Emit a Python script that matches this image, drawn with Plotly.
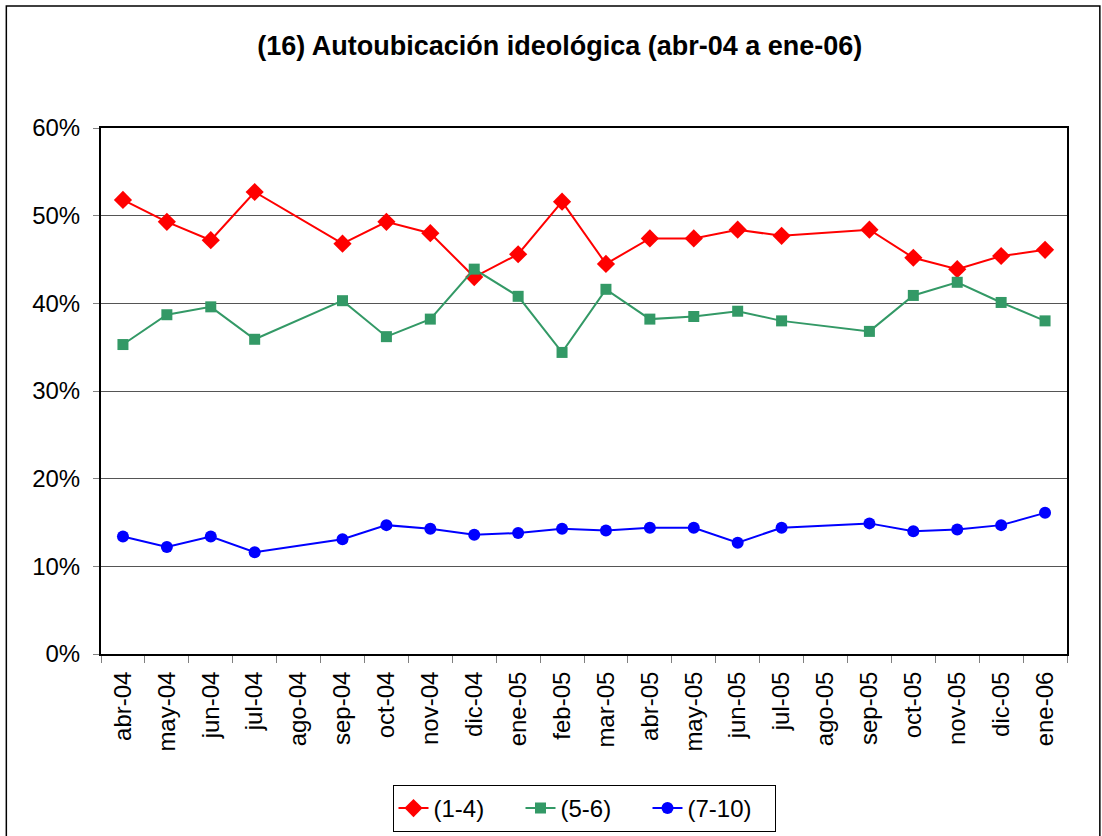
import plotly.graph_objects as go

# categories (ago-04 and ago-05 have no survey -> gaps joined)
meses = ["abr-04", "may-04", "jun-04", "jul-04", "ago-04", "sep-04", "oct-04",
         "nov-04", "dic-04", "ene-05", "feb-05", "mar-05", "abr-05", "may-05",
         "jun-05", "jul-05", "ago-05", "sep-05", "oct-05", "nov-05", "dic-05", "ene-06"]

izq_1_4 = [51.8, 49.3, 47.2, 52.7, None, 46.8, 49.3, 48.0, 43.0, 45.6, 51.6,
           44.5, 47.4, 47.4, 48.4, 47.7, None, 48.4, 45.2, 43.9, 45.4, 46.1]
centro_5_6 = [35.3, 38.7, 39.6, 35.9, None, 40.3, 36.2, 38.2, 43.9, 40.8, 34.4,
              41.6, 38.2, 38.5, 39.1, 38.0, None, 36.8, 40.9, 42.4, 40.1, 38.0]
der_7_10 = [13.4, 12.2, 13.4, 11.6, None, 13.1, 14.7, 14.3, 13.6, 13.8, 14.3,
            14.1, 14.4, 14.4, 12.7, 14.4, None, 14.9, 14.0, 14.2, 14.7, 16.1]

y_ticks = [0, 10, 20, 30, 40, 50, 60]
y_labels = ["0%", "10%", "20%", "30%", "40%", "50%", "60%"]


def pct(vals):
    return [v / 100 if v is not None else None for v in vals]


fig = go.Figure()

fig.add_trace(go.Scatter(x=meses, y=pct(izq_1_4),
                         name="(1-4)", mode="lines+markers", connectgaps=True,
                         line=dict(color="#ff0000", width=2),
                         marker=dict(symbol="diamond", size=14, color="#ff0000")))
fig.add_trace(go.Scatter(x=meses, y=pct(centro_5_6),
                         name="(5-6)", mode="lines+markers", connectgaps=True,
                         line=dict(color="#339966", width=2),
                         marker=dict(symbol="square", size=11, color="#339966")))
fig.add_trace(go.Scatter(x=meses, y=pct(der_7_10),
                         name="(7-10)", mode="lines+markers", connectgaps=True,
                         line=dict(color="#0000ff", width=2),
                         marker=dict(symbol="circle", size=12, color="#0000ff")))

fig.update_layout(
    width=1102, height=836,
    paper_bgcolor="white", plot_bgcolor="white",
    margin=dict(l=101, r=35, t=128, b=182, autoexpand=False),
    font=dict(family="Liberation Sans, Arial, sans-serif", color="black"),
    title=dict(text="<b>(16) Autoubicación ideológica (abr-04 a ene-06)</b>",
               x=0.508, xanchor="center", y=0.946, yanchor="middle",
               font=dict(size=27, color="black")),
    showlegend=True,
    legend=dict(orientation="h", x=0.5, xanchor="center", y=-0.249, yanchor="top",
                bordercolor="black", borderwidth=1, font=dict(size=24),
                entrywidth=82, entrywidthmode="pixels", tracegroupgap=0),
    shapes=[dict(type="rect", xref="paper", yref="paper",
                 x0=-0.098, x1=1.034, y0=-0.45, y1=1.232,
                 line=dict(color="black", width=1.5))],
)

fig.update_xaxes(type="category", range=[-0.5, len(meses) - 0.5],
                 tickangle=-90, tickfont=dict(size=24), ticklabelstandoff=6,
                 ticks="outside", tickson="boundaries", ticklen=7,
                 tickcolor="#808080", showgrid=False,
                 showline=True, linecolor="black", linewidth=2, mirror=True)
fig.update_yaxes(range=[0, 0.6], tickvals=[t / 100 for t in y_ticks], ticktext=y_labels,
                 tickfont=dict(size=24), ticklabelstandoff=8,
                 ticks="outside", ticklen=6, tickcolor="#808080",
                 showgrid=True, gridcolor="#555555", gridwidth=1,
                 showline=True, linecolor="black", linewidth=2, mirror=True,
                 zeroline=False)

fig.write_html("out.html", config={"displayModeBar": False},
               post_script="document.body.style.margin='0';")
